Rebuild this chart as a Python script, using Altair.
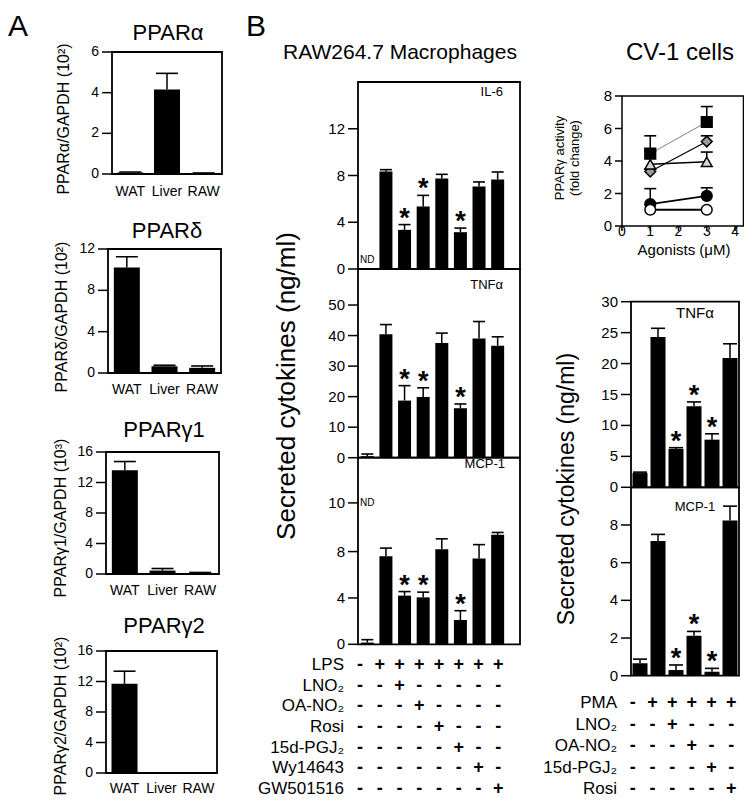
import altair as alt
import pandas as pd

FONT = "Liberation Sans"
W, H = 736, 791
MARGIN = 8

# ---------------- data ----------------
tissues = ["WAT", "Liver", "RAW"]
ppara_mean = [0.07, 4.15, 0.03]
ppara_top = [0.1, 4.95, 0.05]
ppard_mean = [10.2, 0.65, 0.5]
ppard_top = [11.25, 0.75, 0.68]
pparg1_mean = [13.6, 0.45, 0.1]
pparg1_top = [14.75, 0.72, 0.2]
pparg2_mean = [11.7, 0.0, 0.0]
pparg2_top = [13.35, 0.0, 0.0]

raw_il6_mean = [0.0, 8.35, 3.35, 5.35, 7.75, 3.15, 7.05, 7.65]
raw_il6_top = [0.0, 8.5, 3.8, 6.3, 8.1, 3.5, 7.45, 8.3]
raw_il6_sig = [0, 0, 1, 1, 0, 1, 0, 0]
raw_tnf_mean = [0.5, 40.4, 18.7, 19.9, 37.6, 16.2, 39.0, 36.7]
raw_tnf_top = [1.2, 43.6, 23.6, 22.9, 40.8, 17.6, 44.6, 39.6]
raw_tnf_sig = [0, 0, 1, 1, 0, 1, 0, 0]
raw_mcp_mean = [0.15, 7.6, 4.2, 4.05, 8.2, 2.1, 7.4, 9.45]
raw_mcp_top = [0.4, 8.3, 4.55, 4.5, 9.1, 2.9, 8.6, 9.65]
raw_mcp_sig = [0, 0, 1, 1, 0, 1, 0, 0]
raw_rows = ["LPS", "LNO₂", "OA-NO₂", "Rosi", "15d-PGJ₂", "Wy14643", "GW501516"]
raw_signs = ["-+++++++", "--+-----", "---+----", "----+---",
             "-----+--", "------+-", "-------+"]

cv1_conc = [1, 3]
cv1_series = ["Rosi", "OA-NO₂", "LNO₂", "15d-PGJ₂", "Vehicle"]
cv1_mean = [[4.45, 6.4], [3.35, 5.2], [3.8, 3.95], [1.35, 1.85], [1.0, 1.0]]
cv1_top = [[5.55, 7.35], [3.5, 5.55], [4.6, 4.55], [2.3, 2.35], [1.0, 1.0]]

pma_tnf_mean = [2.3, 24.3, 6.2, 13.1, 7.7, 20.9]
pma_tnf_top = [2.45, 25.7, 6.4, 13.8, 8.65, 23.2]
pma_tnf_sig = [0, 0, 1, 1, 1, 0]
pma_mcp_mean = [0.66, 7.15, 0.3, 2.12, 0.21, 8.24]
pma_mcp_top = [0.88, 7.5, 0.57, 2.35, 0.39, 9.0]
pma_mcp_sig = [0, 0, 1, 1, 1, 0]
pma_rows = ["PMA", "LNO₂", "OA-NO₂", "15d-PGJ₂", "Rosi"]
pma_signs = ["-+++++", "--+---", "---+--", "----+-", "-----+"]


def cx(v):
    return v - MARGIN


def cy(v):
    return v - MARGIN


def sc(dom, rng):
    return alt.Scale(domain=dom, range=rng, nice=False, zero=False)


def y_ticks(xs, ys, edge, values, labels, tick_size, font_size):
    df = pd.DataFrame({"v": values, "lab": labels})
    base = alt.Chart(df).transform_calculate(edge=str(edge))
    t = base.mark_tick(orient="horizontal", size=tick_size, thickness=1.5, color="black",
                       opacity=1, xOffset=-tick_size / 2).encode(
        x=alt.X("edge:Q", scale=xs, axis=None), y=alt.Y("v:Q", scale=ys, axis=None))
    lab = base.mark_text(align="right", baseline="middle", dx=-(tick_size + 3),
                         fontSize=font_size, color="black").encode(
        x=alt.X("edge:Q", scale=xs, axis=None), y=alt.Y("v:Q", scale=ys, axis=None),
        text="lab:N")
    return [t, lab]


def vtitle(text, x, y, size):
    return alt.Chart(pd.DataFrame({"t": [text]})).mark_text(
        angle=270, align="center", baseline="middle", fontSize=size, color="black").encode(
        x=alt.value(cx(x)), y=alt.value(cy(y)), text="t:N")


def bar_panel(means, tops, sig, xr, yr, ydom, yticks, bar_w, cap_w, xmax=None,
              labels=None, lab_pad=10, ytitle=None, ylabels=None,
              ylab_size=14, tick_size=10, inner=None, nd=None):
    n = len(means)
    pos = list(range(1, n + 1))
    xdom = [0.5, xmax if xmax is not None else n + 0.5]
    xs = sc(xdom, [cx(xr[0]), cx(xr[1])])
    ys = sc(ydom, [cy(yr[0]), cy(yr[1])])
    df = pd.DataFrame({"pos": pos, "val": means, "top": tops, "sig": sig})
    base = alt.Chart(df)

    def X(f):
        return alt.X(f, scale=xs, axis=None)

    def Y(f):
        return alt.Y(f, scale=ys, axis=None)

    bars = base.mark_bar(color="black", size=bar_w, orient="vertical").encode(
        x=X("pos:Q"), y=Y("val:Q"))
    eb = base.transform_filter("datum.top > datum.val")
    rule = eb.mark_rule(color="black", strokeWidth=1.5).encode(
        x=X("pos:Q"), y=Y("val:Q"), y2="top:Q")
    cap = eb.mark_tick(color="black", orient="horizontal", size=cap_w, thickness=1.6,
                       opacity=1).encode(x=X("pos:Q"), y=Y("top:Q"))
    stars = base.transform_filter("datum.sig == 1").mark_text(
        text="*", fontSize=27, fontWeight="bold", color="black", baseline="alphabetic",
        dy=2).encode(x=X("pos:Q"), y=Y("top:Q"))
    frame = alt.Chart(pd.DataFrame({"x0": [xdom[0]], "x1": [xdom[1]],
                                    "y0": [ydom[0]], "y1": [ydom[1]]})).mark_rect(
        fillOpacity=0, stroke="black", strokeWidth=1.8).encode(
        x=X("x0:Q"), x2="x1:Q", y=Y("y0:Q"), y2="y1:Q")
    layers = [bars, rule, cap, stars, frame]
    layers += y_ticks(xs, ys, xdom[0], yticks,
                      ylabels if ylabels else [f"{v:g}" for v in yticks],
                      tick_size, ylab_size)
    if labels:
        ldf = pd.DataFrame({"pos": pos, "lab": labels})
        layers.append(alt.Chart(ldf).transform_calculate(base=str(ydom[0])).mark_text(
            baseline="top", dy=lab_pad, fontSize=14, color="black").encode(
            x=X("pos:Q"), y=Y("base:Q"), text="lab:N"))
    if ytitle:
        layers.append(vtitle(*ytitle))
    if inner:
        text, anchor, dx, dy, size = inner
        ax = xdom[1] if anchor == "right" else (xdom[0] + xdom[1]) / 2
        layers.append(alt.Chart(pd.DataFrame({"t": [text], "x": [ax], "y": [ydom[1]]})).mark_text(
            align=anchor, baseline="middle", dx=dx, dy=dy, fontSize=size, color="black").encode(
            x=X("x:Q"), y=Y("y:Q"), text="t:N"))
    if nd is not None:
        ndv, ndy = nd
        layers.append(alt.Chart(pd.DataFrame({"t": ["ND"], "x": [1], "y": [ndv]})).mark_text(
            baseline="middle", dy=ndy, fontSize=10, color="black").encode(
            x=X("x:Q"), y=Y("y:Q"), text="t:N"))
    return alt.layer(*layers)


def table_panel(rows, signs, xr, xdom, yr, label_dx):
    recs = []
    for r, s in zip(rows, signs):
        for j, ch in enumerate(s):
            recs.append({"row": r, "col": j + 1, "sign": ch})
    df = pd.DataFrame(recs)
    xs = sc(xdom, [cx(xr[0]), cx(xr[1])])
    ys = alt.Scale(type="point", domain=rows, range=[cy(yr[0]), cy(yr[1])], padding=0)
    signs_layer = alt.Chart(df).mark_text(fontSize=18, fontWeight="bold", color="black",
                                          dx=-3, baseline="middle").encode(
        x=alt.X("col:Q", scale=xs, axis=None),
        y=alt.Y("row:N", scale=ys, axis=None),
        text="sign:N")
    labs = alt.Chart(pd.DataFrame({"row": rows})).transform_calculate(
        edge=str(xdom[0])).mark_text(
        align="right", baseline="middle", dx=label_dx, fontSize=17, color="black").encode(
        x=alt.X("edge:Q", scale=xs, axis=None),
        y=alt.Y("row:N", scale=ys, axis=None),
        text="row:N")
    return alt.layer(signs_layer, labs)


def line_panel():
    recs = []
    for s, m, t in zip(cv1_series, cv1_mean, cv1_top):
        for xv, mv, tv in zip(cv1_conc, m, t):
            recs.append({"series": s, "conc": xv, "val": mv, "top": tv})
    df = pd.DataFrame(recs)
    xdom, ydom = [0, 4.3], [0, 8]
    xs = sc(xdom, [cx(622), cx(743.5)])
    ys = sc(ydom, [cy(226), cy(96)])
    base = alt.Chart(df)

    def X(f):
        return alt.X(f, scale=xs, axis=None)

    def Y(f):
        return alt.Y(f, scale=ys, axis=None)

    lines = base.mark_line().encode(
        x=X("conc:Q"), y=Y("val:Q"), detail="series:N",
        color=alt.Color("series:N", scale=alt.Scale(
            domain=cv1_series, range=["#808080", "black", "black", "black", "black"]), legend=None),
        strokeWidth=alt.StrokeWidth("series:N", scale=alt.Scale(
            domain=cv1_series, range=[1, 2, 1.5, 2.5, 2]), legend=None))
    eb = base.transform_filter("datum.top > datum.val")
    rule = eb.mark_rule(color="black", strokeWidth=1.5).encode(
        x=X("conc:Q"), y=Y("val:Q"), y2="top:Q")
    cap = eb.mark_tick(color="black", orient="horizontal", size=12, thickness=1.6,
                       opacity=1).encode(x=X("conc:Q"), y=Y("top:Q"))
    pts = base.mark_point(filled=True, opacity=1, size=115, stroke="black",
                          strokeWidth=1.5).encode(
        x=X("conc:Q"), y=Y("val:Q"),
        shape=alt.Shape("series:N", scale=alt.Scale(
            domain=cv1_series,
            range=["square", "diamond", "triangle-up", "circle", "circle"]), legend=None),
        fill=alt.Fill("series:N", scale=alt.Scale(
            domain=cv1_series, range=["black", "#9a9a9a", "#d4d4d4", "black", "white"]),
            legend=None))
    frame = alt.Chart(pd.DataFrame({"x0": [xdom[0]], "x1": [xdom[1]],
                                    "y0": [ydom[0]], "y1": [ydom[1]]})).mark_rect(
        fillOpacity=0, stroke="black", strokeWidth=1.5).encode(
        x=X("x0:Q"), x2="x1:Q", y=Y("y0:Q"), y2="y1:Q")
    yv = [0, 2, 4, 6, 8]
    layers = [lines, rule, cap, pts, frame]
    layers += y_ticks(xs, ys, xdom[0], yv, [str(v) for v in yv], 7, 15)
    xv = [0, 1, 2, 3, 4]
    xdf = alt.Chart(pd.DataFrame({"v": xv, "lab": [str(v) for v in xv]})).transform_calculate(
        edge=str(ydom[0]))
    layers.append(xdf.mark_tick(orient="vertical", size=5, thickness=1.5, color="black",
                                opacity=1, yOffset=2.5).encode(
        x=X("v:Q"), y=Y("edge:Q")))
    layers.append(xdf.mark_text(baseline="middle", dy=6, fontSize=14, color="black").encode(
        x=X("v:Q"), y=Y("edge:Q"), text="lab:N"))
    layers.append(alt.Chart(pd.DataFrame({"t": ["Agonists (μM)"]})).mark_text(
        fontSize=15, color="black", baseline="middle").encode(
        x=alt.value(cx(684)), y=alt.value(cy(250)), text="t:N"))
    layers.append(alt.Chart(pd.DataFrame({"t": ["PPARγ activity"]})).mark_text(
        angle=270, fontSize=13, color="black", baseline="middle",
        text=["PPARγ activity", "(fold change)"], lineHeight=15).encode(
        x=alt.value(cx(560)), y=alt.value(cy(158))))
    return alt.layer(*layers)


def heading(text, x, y, size, align="center", baseline="middle"):
    return alt.Chart(pd.DataFrame({"t": [text]})).mark_text(
        align=align, baseline=baseline, fontSize=size, color="black").encode(
        x=alt.value(cx(x)), y=alt.value(cy(y)), text="t:N")


panels = [
    # ---------------- panel A ----------------
    bar_panel(ppara_mean, ppara_top, [0, 0, 0], (107, 227), (174, 52), [0, 6], [0, 2, 4, 6],
              26, 22, labels=tissues, lab_pad=11, ytitle=("PPARα/GAPDH (10²)", 64, 119, 16)),
    bar_panel(ppard_mean, ppard_top, [0, 0, 0], (103, 226), (373, 249), [0, 12], [0, 4, 8, 12],
              26, 22, labels=tissues, lab_pad=10, ytitle=("PPARδ/GAPDH (10²)", 62, 317, 16)),
    bar_panel(pparg1_mean, pparg1_top, [0, 0, 0], (101, 224), (574, 452), [0, 16],
              [0, 4, 8, 12, 16], 26, 22, labels=tissues, lab_pad=10,
              ytitle=("PPARγ1/GAPDH (10³)", 61, 518, 16)),
    bar_panel(pparg2_mean, pparg2_top, [0, 0, 0], (101, 222), (773, 651), [0, 16],
              [0, 4, 8, 12, 16], 26, 22, labels=tissues, lab_pad=9,
              ytitle=("PPARγ2/GAPDH (10²)", 61, 716, 16)),
    # ---------------- panel B, RAW264.7 ----------------
    bar_panel(raw_il6_mean, raw_il6_top, raw_il6_sig, (353, 525), (269, 82), [0, 16],
              [0, 4, 8, 12], 13, 12, xmax=9.2, ylab_size=15,
              inner=("IL-6", "right", -17, 10, 13), nd=(0, -9)),
    bar_panel(raw_tnf_mean, raw_tnf_top, raw_tnf_sig, (353, 525), (457.7, 269), [0, 61.8],
              [0, 10, 20, 30, 40, 50], 13, 12, xmax=9.2, ylab_size=15,
              ytitle=("Secreted cytokines (ng/ml)", 287, 386, 26),
              inner=("TNFα", "right", -17, 16, 13)),
    bar_panel(raw_mcp_mean, raw_mcp_top, raw_mcp_sig, (353, 525), (644.3, 457.7), [0, 16.1],
              [0, 4, 8, 12.2], 13, 12, xmax=9.2, ylab_size=15,
              ylabels=["0", "4", "8", "10"],
              inner=("MCP-1", "right", -15, 6, 13), nd=(12.2, 0)),
    table_panel(raw_rows, raw_signs, (353, 525), [0.5, 9.2], (665, 789), -9),
    # ---------------- CV-1 ----------------
    line_panel(),
    bar_panel(pma_tnf_mean, pma_tnf_top, pma_tnf_sig, (626, 744), (487.3, 301.7), [0, 30],
              [0, 5, 10, 15, 20, 25, 30], 15, 14, ylab_size=15,
              ytitle=("Secreted cytokines (ng/ml)", 567, 489, 23),
              inner=("TNFα", "center", 10, 11, 15)),
    bar_panel(pma_mcp_mean, pma_mcp_top, pma_mcp_sig, (626, 744), (675.7, 487.3), [0, 10],
              [0, 2, 4, 6, 8], 15, 14, ylab_size=15,
              inner=("MCP-1", "center", 10, 20, 13)),
    table_panel(pma_rows, pma_signs, (626, 744), [0.5, 6.5], (703, 789), -9),
    # ---------------- headings ----------------
    heading("A", 8, 36, 30, "left", "alphabetic"),
    heading("B", 246, 36, 30, "left", "alphabetic"),
    heading("PPARα", 168, 33, 22),
    heading("PPARδ", 167, 231, 22),
    heading("PPARγ1", 164, 430, 22),
    heading("PPARγ2", 164, 626, 22),
    heading("RAW264.7 Macrophages", 400, 53, 21),
    heading("CV-1 cells", 680, 53, 24),
]

chart = alt.layer(*panels).resolve_scale(
    x="independent", y="independent").properties(
    width=W, height=H, padding=0,
    autosize=alt.AutoSizeParams(type="none", contains="padding")).configure_view(
    strokeOpacity=0).configure_text(font=FONT)

chart.save("out.html", embed_options={"renderer": "svg", "actions": False})
